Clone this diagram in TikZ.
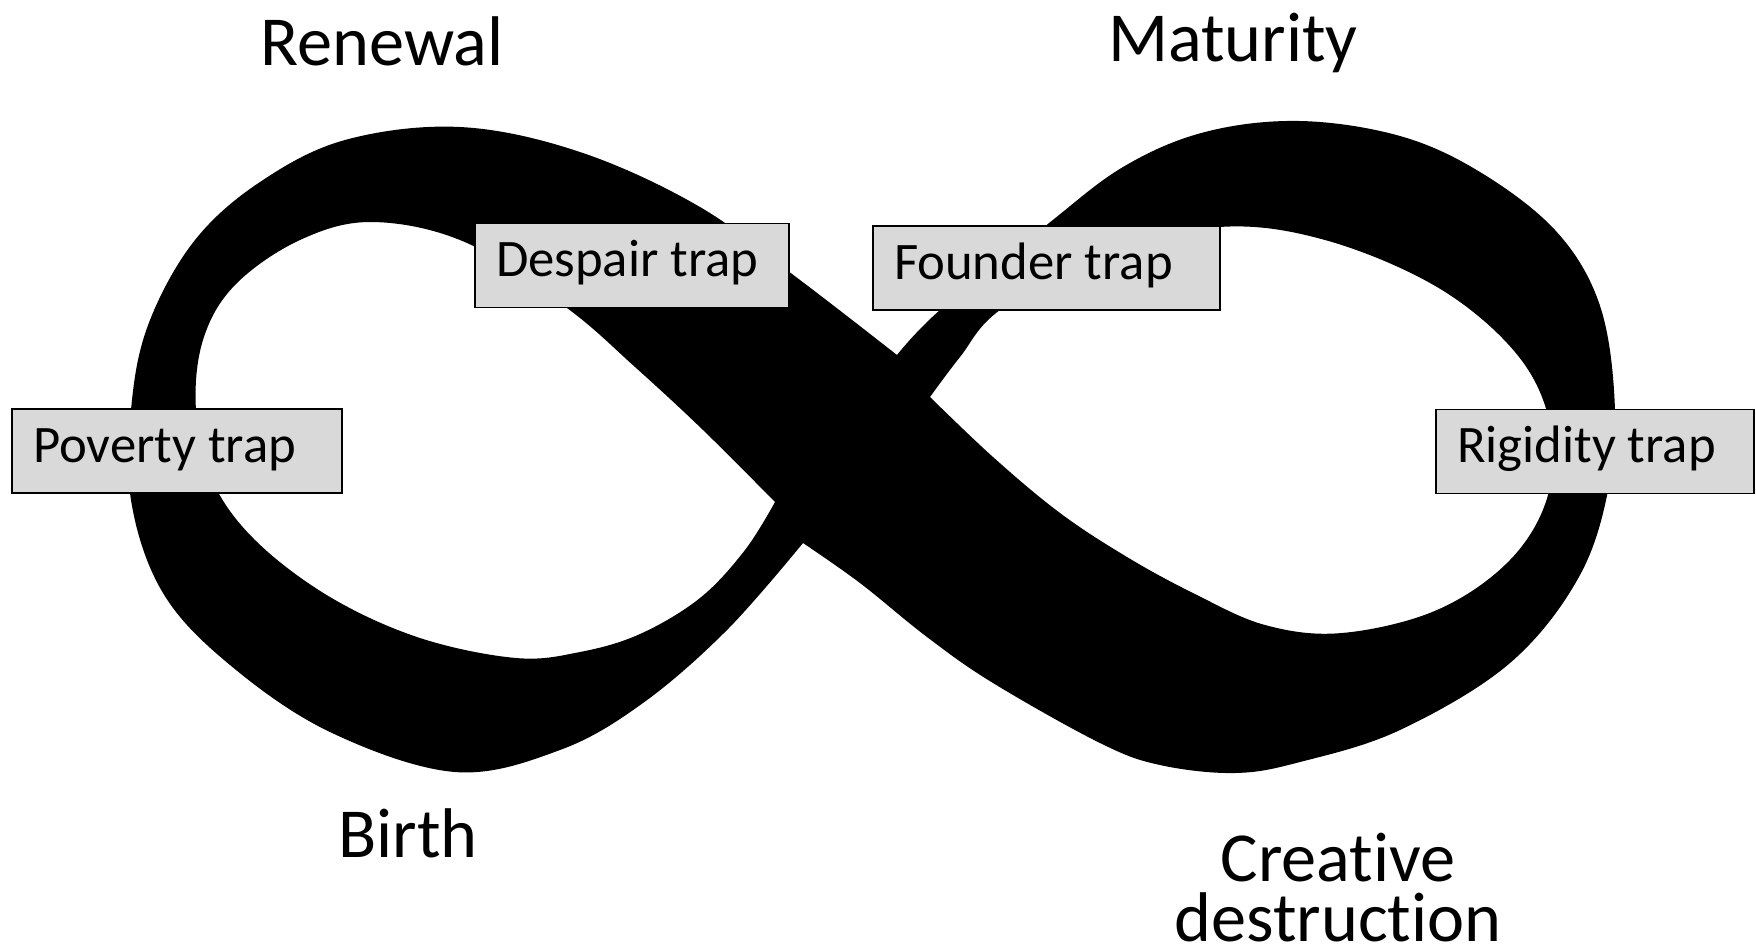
\documentclass[tikz,border=0pt]{standalone}
\usepackage{fontspec}
\setmainfont{Carlito}[Ligatures=NoCommon]
\usepackage{tikz}
\usetikzlibrary{positioning}
\definecolor{trapgray}{RGB}{217,217,217}

\begin{document}
\begin{tikzpicture}[
  x=0.1mm, y=-0.1mm,
  trap/.style={draw, fill=trapgray, line width=0.5pt, align=flush left,
               font=\fontsize{15}{18}\selectfont, minimum height=8.4mm,
               inner xsep=2.1mm, text height=0.75em, text depth=0.12em},
  phase/.style={font=\fontsize{20}{16.8}\selectfont, anchor=base, align=center},
  band/.style={fill=black, even odd rule}]
  \useasboundingbox (0,0) rectangle (1756,951);
  % ribbon: outer contour, then the two holes
  \fill[band]
    plot[smooth, tension=0.6] coordinates {(897,355) (940,310) (1044,227)
      (1123,167) (1205,132) (1300,121) (1400,136) (1480,172) (1555,230)
      (1598,300) (1614,390) (1610,480) (1580,575) (1510,663) (1400,730)
      (1300,762) (1235,773) (1160,765) (1100,743) (993,683) (927,637)
      (860,583) (803,543)}
    -- plot[smooth, tension=0.6] coordinates {(803,543) (727,630) (643,703)
      (560,750) (455,772) (330,732) (230,665) (163,593) (131,500) (132,400)
      (150,320) (195,240) (260,182) (345,140) (460,127) (580,152) (700,207)
      (800,280) (897,355)} -- cycle
    plot[smooth, tension=0.6] coordinates {(775,502) (745,550) (700,598)
      (640,634) (580,652) (516,658) (420,638) (330,597) (255,540) (212,480)
      (196,410) (203,340) (235,285) (300,240) (373,222) (467,243) (567,308)
      (635,367) (703,430) (775,502)} -- cycle
    plot[smooth, tension=0.6] coordinates {(930,397) (960,357) (1000,310)
      (1100,255) (1219,227) (1325,240) (1437,287) (1515,352) (1549,420)
      (1548,495) (1510,560) (1437,610) (1342,633) (1265,625) (1193,593)
      (1127,557) (1060,513) (993,457) (930,397)} -- cycle;

  \node[trap, text width=28.8mm] (poverty) at (177,451) {Poverty trap};
  \node[trap, text width=27.2mm] (despair) at (632,265.5) {Despair trap};
  \node[trap, text width=30.5mm] (founder) at (1046.5,268) {Founder trap};
  \node[trap, text width=27.6mm] (rigidity) at (1595,451.5) {Rigidity trap};

  \node[phase] (renewal) at (382,65) {Renewal};
  \node[phase] (maturity) at (1233,61) {Maturity};
  \node[phase] (birth) at (408,857) {Birth};
  \node[phase] (creative) at (1338,941) {Creative\\destruction};
\end{tikzpicture}
\end{document}
